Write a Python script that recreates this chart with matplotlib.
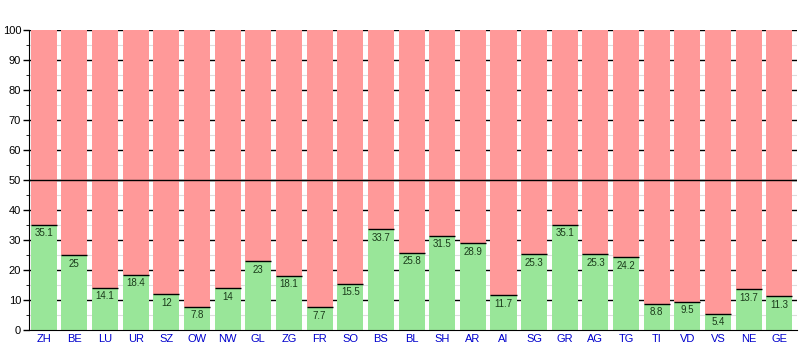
import numpy as np
import matplotlib.pyplot as plt

plt.rcParams['font.family'] = ['Liberation Sans', 'DejaVu Sans']

cantons = ["ZH", "BE", "LU", "UR", "SZ", "OW", "NW", "GL", "ZG", "FR", "SO", "BS", "BL",
           "SH", "AR", "AI", "SG", "GR", "AG", "TG", "TI", "VD", "VS", "NE", "GE"]
yes_share = [35.1, 25, 14.1, 18.4, 12, 7.8, 14, 23, 18.1, 7.7, 15.5, 33.7, 25.8,
             31.5, 28.9, 11.7, 25.3, 35.1, 25.3, 24.2, 8.8, 9.5, 5.4, 13.7, 11.3]
no_share = [100 - v for v in yes_share]

fig = plt.figure(figsize=(8.01, 3.5), dpi=100)
ax = fig.add_axes([0.0368, 0.057, 0.958, 0.857])

x = np.arange(len(cantons))
w = 0.85

# grid behind the bars: black every 10, light grey every 5
for yv in range(10, 101, 10):
    ax.axhline(yv, color="black", lw=1, zorder=0)
for yv in range(5, 100, 10):
    ax.axhline(yv, color="#dddddd", lw=0.8, zorder=0)

ax.bar(x, yes_share, width=w, color="#99e699", zorder=2)
ax.bar(x, no_share, width=w, bottom=yes_share, color="#ff9999", zorder=2)
# dividing line on top of each green segment
ax.hlines(yes_share, x - w / 2, x + w / 2, color="black", lw=1, zorder=3)

for xi, v in zip(x, yes_share):
    ax.text(xi, v - 1.2, f"{v:g}", ha="center", va="top", fontsize=7,
            color="#1a3a1a", zorder=4)

ax.axhline(50, color="black", lw=1, zorder=5)

ax.set_xlim(-0.5 + (1 - w) / 2 - 0.04, len(cantons) - 0.5 + 0.07)
ax.set_ylim(0, 100)
ax.set_yticks(range(0, 101, 10))
ax.set_yticks(range(5, 100, 10), minor=True)
ax.set_xticks(x)
ax.set_xticklabels(cantons, color="#0000cc", fontsize=8)
ax.tick_params(axis="y", labelsize=8, length=4, width=1, pad=2)
ax.tick_params(axis="y", which="minor", length=2.5)
ax.tick_params(axis="x", length=0, pad=3)
for s in ["top", "right"]:
    ax.spines[s].set_visible(False)

fig.savefig("out.png", dpi=100)
